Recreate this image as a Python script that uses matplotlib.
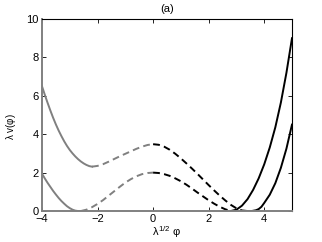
import matplotlib
matplotlib.use('Agg')
import matplotlib.pyplot as plt

plt.rcParams['font.family'] = ['Liberation Sans', 'DejaVu Sans']
plt.rcParams['mathtext.fontset'] = 'custom'
plt.rcParams['mathtext.rm'] = 'Liberation Sans'
plt.rcParams['mathtext.it'] = 'Liberation Sans'

# upper curve (barrier 3.5)
up_gray_x = [-4.0, -3.9, -3.8, -3.7, -3.6, -3.5, -3.4, -3.3, -3.2, -3.1,
             -3.0, -2.9, -2.8, -2.7, -2.6, -2.5, -2.4, -2.3, -2.2]
up_gray_y = [6.50, 6.06, 5.64, 5.24, 4.86, 4.51, 4.19, 3.90, 3.63, 3.39,
             3.18, 3.00, 2.84, 2.70, 2.58, 2.48, 2.40, 2.34, 2.31]
up_gdash_x = [-2.2, -2.0, -1.8, -1.6, -1.4, -1.2, -1.0, -0.8, -0.6, -0.4, -0.2, 0.0]
up_gdash_y = [2.31, 2.35, 2.44, 2.57, 2.71, 2.85, 2.98, 3.11, 3.24, 3.35, 3.44, 3.48]
up_kdash_x = [0.0, 0.2, 0.4, 0.6, 0.8, 1.0, 1.2, 1.4, 1.6, 1.8,
              2.0, 2.2, 2.4, 2.6, 2.8, 3.0, 3.2, 3.4]
up_kdash_y = [3.48, 3.45, 3.35, 3.19, 2.98, 2.74, 2.48, 2.21, 1.93, 1.64,
              1.35, 1.07, 0.80, 0.55, 0.32, 0.14, 0.03, 0.0]
up_solid_x = [3.4, 3.55, 3.7, 3.8, 3.9, 4.0, 4.2, 4.4, 4.6, 4.8, 5.0]
up_solid_y = [0.0, 0.0, 0.04, 0.10, 0.22, 0.42, 0.85, 1.45, 2.25, 3.25, 4.5]

# lower curve (barrier 2)
lo_gray_x = [-4.0, -3.9, -3.8, -3.7, -3.6, -3.5, -3.4, -3.3, -3.2, -3.1,
             -3.0, -2.9, -2.8, -2.7, -2.6]
lo_gray_y = [1.95, 1.70, 1.47, 1.26, 1.05, 0.86, 0.68, 0.52, 0.38, 0.25,
             0.15, 0.07, 0.02, 0.0, 0.0]
lo_gdash_x = [-2.6, -2.4, -2.2, -2.0, -1.8, -1.6, -1.4, -1.2, -1.0, -0.8,
              -0.6, -0.4, -0.2, 0.0]
lo_gdash_y = [0.0, 0.07, 0.20, 0.37, 0.57, 0.80, 1.03, 1.26, 1.48, 1.66,
              1.81, 1.92, 1.98, 2.0]
lo_kdash_x = [0.0, 0.2, 0.4, 0.6, 0.8, 1.0, 1.2, 1.4, 1.6, 1.8,
              2.0, 2.2, 2.4, 2.6, 2.8]
lo_kdash_y = [2.0, 1.98, 1.92, 1.83, 1.70, 1.55, 1.37, 1.17, 0.96, 0.76,
              0.56, 0.38, 0.22, 0.09, 0.0]
lo_solid_x = [2.8, 3.0, 3.2, 3.4, 3.6, 3.8, 4.0, 4.2, 4.4, 4.6, 4.8, 5.0]
lo_solid_y = [0.0, 0.07, 0.28, 0.62, 1.10, 1.70, 2.43, 3.31, 4.36, 5.65, 7.20, 9.0]

gray = '#808080'
lw = 1.4
dash = (0, (3.5, 2.2))

fig = plt.figure(figsize=(3.22, 2.42), dpi=100)
ax = fig.add_axes([0.1304, 0.128, 0.7764, 0.7935])

for xs, ys, c, ls in [(up_gray_x, up_gray_y, gray, '-'),
                      (up_gdash_x, up_gdash_y, gray, dash),
                      (up_kdash_x, up_kdash_y, 'black', dash),
                      (up_solid_x, up_solid_y, 'black', '-'),
                      (lo_gray_x, lo_gray_y, gray, '-'),
                      (lo_gdash_x, lo_gdash_y, gray, dash),
                      (lo_kdash_x, lo_kdash_y, 'black', dash),
                      (lo_solid_x, lo_solid_y, 'black', '-')]:
    ax.plot(xs, ys, color=c, linestyle=ls, linewidth=lw)

ax.set_xlim(-4, 5)
ax.set_ylim(0, 10)
ax.set_xticks([-4, -2, 0, 2, 4])
ax.set_yticks([0, 2, 4, 6, 8, 10])
ax.tick_params(direction='in', top=True, right=True, length=3, width=0.6,
               labelsize=8, pad=2.5)
for s in ['top', 'right']:
    ax.spines[s].set_linewidth(0.8)
for s in ['left', 'bottom']:
    ax.spines[s].set_color(gray)
    ax.spines[s].set_linewidth(1.4)

ax.set_title('(a)', fontsize=8, pad=5)
ax.set_xlabel(r'$\lambda^{1/2}\ \varphi$', fontsize=8, labelpad=0)
ax.set_ylabel(r'$\lambda\ v(\varphi)$', fontsize=7)
ax.yaxis.set_label_coords(-0.095, 0.44)

fig.savefig('out.png', dpi=100)
